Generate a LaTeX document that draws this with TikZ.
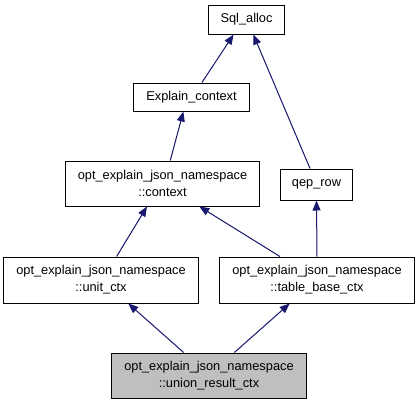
\documentclass[tikz,border=0pt]{standalone}
\usepackage{fontspec}
\setmainfont{Liberation Sans}
\usetikzlibrary{arrows.meta,calc}
\definecolor{edgeblue}{RGB}{25,25,112}
\definecolor{boxgray}{RGB}{191,191,191}
\begin{document}
\begin{tikzpicture}[x=1bp,y=-1bp,
  cls/.style={draw=black,line width=1bp,fill=white,inner sep=0pt,align=center,
    font=\fontsize{12.8bp}{17bp}\selectfont},
  edge/.style={draw=edgeblue,line width=1bp,-{Triangle[length=10bp,width=8bp]},
    fill=edgeblue}]
\useasboundingbox (0,0) rectangle (419,405);
\node[cls,minimum width=75bp,minimum height=29bp] (sql) at (246.5,19.5) {Sql\_alloc};
\node[cls,minimum width=115bp,minimum height=28bp] (expl) at (191.5,97) {Explain\_context};
\node[cls,minimum width=193bp,minimum height=45bp] (ctx) at (162.5,183.5) {opt\_explain\_json\_namespace\\::context};
\node[cls,minimum width=71bp,minimum height=31bp] (qep) at (316.5,184.5) {qep\_row};
\node[cls,minimum width=194bp,minimum height=46bp] (unit) at (101,280) {opt\_explain\_json\_namespace\\::unit\_ctx};
\node[cls,minimum width=194bp,minimum height=46bp] (tbl) at (317,280) {opt\_explain\_json\_namespace\\::table\_base\_ctx};
\node[cls,fill=boxgray,minimum width=194bp,minimum height=45bp] (uni) at (209,375.5) {opt\_explain\_json\_namespace\\::union\_result\_ctx};
\draw[edge] ($(expl.north west)!0.59!(expl.north east)$) -- ($(sql.south west)!0.33!(sql.south east)$);
\draw[edge] ($(qep.north west)!0.41!(qep.north east)$) -- ($(sql.south west)!0.59!(sql.south east)$);
\draw[edge] ($(ctx.north west)!0.54!(ctx.north east)$) -- ($(expl.south west)!0.43!(expl.south east)$);
\draw[edge] ($(unit.north west)!0.58!(unit.north east)$) -- ($(ctx.south west)!0.42!(ctx.south east)$);
\draw[edge] ($(tbl.north west)!0.31!(tbl.north east)$) -- ($(ctx.south west)!0.69!(ctx.south east)$);
\draw[edge] (tbl.north) -- (qep.south);
\draw[edge] ($(uni.north west)!0.37!(uni.north east)$) -- ($(unit.south west)!0.64!(unit.south east)$);
\draw[edge] ($(uni.north west)!0.63!(uni.north east)$) -- ($(tbl.south west)!0.36!(tbl.south east)$);
\end{tikzpicture}
\end{document}
